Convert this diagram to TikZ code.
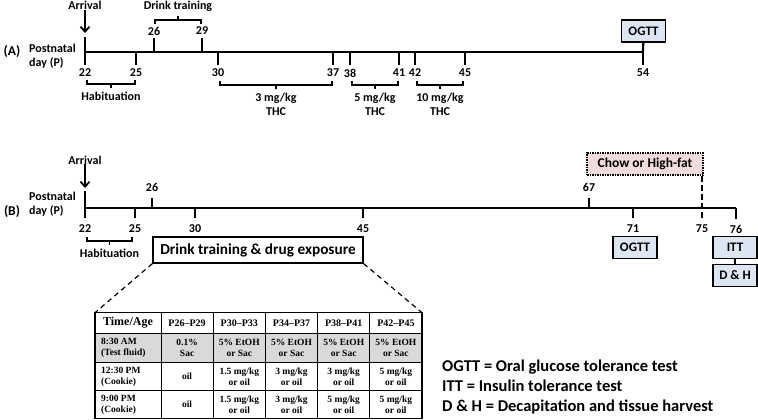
\documentclass[tikz,border=0pt]{standalone}
\usepackage{fontspec}
\setmainfont{Carlito}
\newfontfamily\tableFont{Liberation Serif}
\usetikzlibrary{positioning, arrows.meta}
\definecolor{boxBlue}{RGB}{220,230,242}
\definecolor{chowPink}{RGB}{242,220,219}
\definecolor{rowGray}{RGB}{217,217,217}
\tikzstyle{timeLine} = [line width=2.6pt]
\tikzstyle{tickLine} = [line width=2.2pt]
\tikzstyle{bracketLine} = [line width=1.6pt]
\tikzstyle{dayText} = [font=\fontsize{12}{12}\bfseries\selectfont, inner sep=0pt]
\tikzstyle{noteText} = [font=\fontsize{12}{13.5}\bfseries\selectfont, inner sep=0pt, align=center]
\tikzstyle{panelText} = [font=\fontsize{13.5}{14}\bfseries\selectfont, inner sep=0pt]
\tikzstyle{axisText} = [font=\fontsize{12}{14.5}\bfseries\selectfont, inner sep=0pt, align=left, anchor=west]
\tikzstyle{testBox} = [draw, fill=boxBlue, line width=1.2pt, minimum width=44pt, minimum height=22pt, inner sep=0pt, font=\fontsize{13}{14}\bfseries\selectfont]
\tikzstyle{chowBox} = [draw, fill=chowPink, densely dotted, line width=1.5pt, minimum width=116pt, minimum height=22pt, inner sep=0pt, font=\fontsize{13.5}{14}\bfseries\selectfont]
\tikzstyle{drinkBox} = [draw, line width=1.2pt, minimum width=210pt, minimum height=26pt, inner sep=0pt, font=\fontsize{15.3}{16}\bfseries\selectfont]
\tikzstyle{arrivalArrow} = [line width=1.8pt, -{Straight Barb[length=5pt, width=9pt]}]
\tikzstyle{dietLine} = [line width=2pt, dash pattern=on 6pt off 3pt]
\tikzstyle{zoomLine} = [line width=1.2pt, dash pattern=on 5pt off 4pt]
\tikzstyle{tableBorder} = [line width=1.5pt]
\tikzstyle{cellLine} = [line width=0.9pt]
\tikzstyle{headText} = [font=\tableFont\fontsize{10}{11}\bfseries\selectfont, inner sep=0pt]
\tikzstyle{cellText} = [font=\tableFont\fontsize{9.5}{10.8}\bfseries\selectfont, inner sep=0pt, align=center]
\tikzstyle{legendText} = [font=\fontsize{16.5}{17}\bfseries\selectfont, inner sep=0pt, anchor=base west]
\newcommand{\colStep}{52.2}
\newcommand{\tickDown}[5]{\draw [tickLine] (#2, #3) -- + (0, #4); \node [dayText] (#1) at (#2, #3 + 21) {#5};}
\newcommand{\tickUp}[5]{\draw [tickLine] (#2, #3) -- + (0, -#4); \node [dayText] (#1) at (#2, #3 - 21) {#5};}
\newcommand{\bracketBelow}[5]{
  \draw [bracketLine] (#1, #3 - 4) -- (#1, #3) -- (#2, #3) -- (#2, #3 - 4);
  \draw [bracketLine] ({(#1 + #2) / 2}, #3) -- + (0, 4);
  \node [noteText, anchor=north] (#4) at ({(#1 + #2) / 2}, #3 + 8) {#5};
}
\newcommand{\bracketAbove}[5]{
  \draw [bracketLine] (#1, #3 + 4) -- (#1, #3) -- (#2, #3) -- (#2, #3 + 4);
  \draw [bracketLine] ({(#1 + #2) / 2}, #3) -- + (0, -4);
  \node [noteText, anchor=south] (#4) at ({(#1 + #2) / 2}, #3 - 8) {#5};
}
\begin{document}
\begin{tikzpicture}[x=1pt, y=-1pt]
\useasboundingbox (0,0) rectangle (758,420);

% timeline (A)
\node [panelText] (panelA) at (12,52) {(A)};
\node [axisText] (axisA) at (29,56) {Postnatal\\day (P)};
\node [dayText, anchor=base] (arrivalA) at (85,10) {Arrival};
\coordinate (arrivalTipA) at (85,33);
\draw [arrivalArrow] (arrivalA) -- (arrivalTipA);
\draw [timeLine] (85,52) -- (643,52);
\draw [tickLine] (85,52) -- (85,37);
\tickDown{a22}{85}{52}{13}{22}
\tickDown{a25}{136}{52}{13}{25}
\tickUp{a26}{154}{52}{14}{26}
\tickUp{a29}{202}{52}{14}{29}
\tickDown{a30}{218}{52}{13}{30}
\tickDown{a37}{333}{52}{13}{37}
\tickDown{a38}{350}{52}{13}{38}
\tickDown{a41}{399}{52}{13}{41}
\tickDown{a42}{415}{52}{13}{42}
\tickDown{a45}{465}{52}{13}{45}
\tickDown{a54}{643}{52}{13}{54}
\node [testBox] (ogttA) at (643.5,31) {OGTT};
\coordinate (day54) at (643,52);
\draw [tickLine] (ogttA) -- (day54);
\bracketAbove{155}{201}{20}{drinkA}{Drink training}
\bracketBelow{87}{135}{84}{habitA}{Habituation}
\bracketBelow{220}{332}{85}{thcThree}{3 mg/kg\\THC}
\bracketBelow{352}{398}{85}{thcFive}{5 mg/kg\\THC}
\bracketBelow{417}{463}{85}{thcTen}{10 mg/kg\\THC}

% timeline (B)
\node [panelText] (panelB) at (12,212) {(B)};
\node [axisText] (axisB) at (29,204) {Postnatal\\day (P)};
\node [dayText, anchor=base] (arrivalB) at (85,164) {Arrival};
\coordinate (arrivalTipB) at (85,188);
\draw [arrivalArrow] (arrivalB) -- (arrivalTipB);
\draw [timeLine] (85,208) -- (736,208);
\draw [tickLine] (85,208) -- (85,191);
\tickDown{b22}{85}{208}{10}{22}
\tickDown{b25}{135}{208}{10}{25}
\tickUp{b26}{152}{208}{10}{26}
\tickDown{b30}{195}{208}{10}{30}
\tickDown{b45}{363}{208}{10}{45}
\tickUp{b67}{589}{208}{10}{67}
\tickDown{b71}{633}{208}{10}{71}
\tickDown{b76}{736}{208}{11}{76}
\node [dayText] (b75) at (702,229) {75};
\node [chowBox] (chow) at (645,164) {Chow or High-fat};
\coordinate (day75) at (702,218);
\draw [dietLine] (chow.south east -| day75) -- (day75);
\bracketBelow{87}{132}{241}{habitB}{Habituation}
\node [testBox] (ogttB) at (635,247.5) {OGTT};
\node [testBox] (ittB) at (735,247.5) {ITT};
\node [testBox] (dhB) at (735,275.5) {D \& H};
\draw [tickLine] (ittB) -- (dhB);
\node [drinkBox] (drinkB) at (258,250) {Drink training \& drug exposure};

% schedule table
\coordinate (tableNW) at (95,312.7);
\coordinate (tableNE) at (422,312.7);
\coordinate (tableSE) at (422,418.3);
\draw [zoomLine] (drinkB.south west) -- (tableNW);
\draw [zoomLine] (drinkB.south east) -- (tableNE);
\fill [rowGray] (95,333.3) rectangle (422,362.7);
\foreach \y in {333.3, 362.7, 390.7}
  \draw [cellLine] (95,\y) -- (422,\y);
\foreach \c in {0,...,4}
  \draw [cellLine] (161 + \colStep * \c, 312.7) -- (161 + \colStep * \c, 418.3);
\draw [tableBorder] (tableNW) rectangle (tableSE);
\node [headText, font=\tableFont\fontsize{12}{12}\bfseries\selectfont] (timeAge) at (128,323) {Time/Age};
\node [cellText, align=left, anchor=west] (fluidTime) at (101,348) {8:30 AM\\(Test fluid)};
\node [cellText, align=left, anchor=west] (noonTime) at (101,376.7) {12:30 PM\\(Cookie)};
\node [cellText, align=left, anchor=west] (nightTime) at (101,404.5) {9:00 PM\\(Cookie)};
\foreach \txt [count=\c] in {P26–P29, P30–P33, P34–P37, P38–P41, P42–P45}
  \node [headText] (head\c) at (134.9 + \colStep * \c, 323) {\txt};
\foreach \txt [count=\c] in {{0.1\%\\Sac}, {5\% EtOH\\or Sac}, {5\% EtOH\\or Sac}, {5\% EtOH\\or Sac}, {5\% EtOH\\or Sac}}
  \node [cellText] (fluid\c) at (134.9 + \colStep * \c, 348) {\txt};
\foreach \txt [count=\c] in {{oil}, {1.5 mg/kg\\or oil}, {3 mg/kg\\or oil}, {3 mg/kg\\or oil}, {5 mg/kg\\or oil}}
  \node [cellText] (noon\c) at (134.9 + \colStep * \c, 376.7) {\txt};
\foreach \txt [count=\c] in {{oil}, {1.5 mg/kg\\or oil}, {3 mg/kg\\or oil}, {5 mg/kg\\or oil}, {5 mg/kg\\or oil}}
  \node [cellText] (night\c) at (134.9 + \colStep * \c, 404.5) {\txt};

% legend
\node [legendText] (legendOGTT) at (442,371) {OGTT = Oral glucose tolerance test};
\node [legendText] (legendITT) at (442,391) {ITT = Insulin tolerance test};
\node [legendText] (legendDH) at (442,411) {D \& H = Decapitation and tissue harvest};
\end{tikzpicture}
\end{document}
